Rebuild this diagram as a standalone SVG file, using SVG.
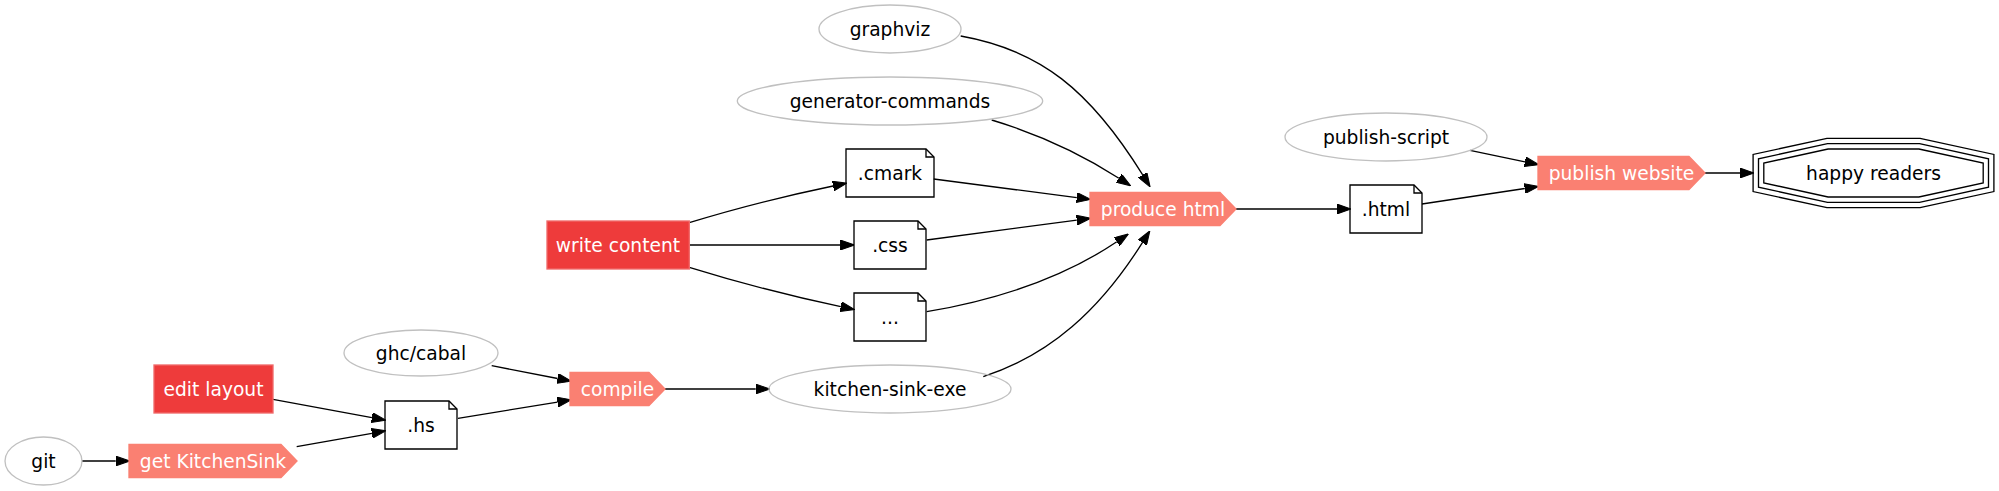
<svg xmlns="http://www.w3.org/2000/svg" width="1999" height="491" viewBox="0 0 1999 491">
<style>
text{font-family:"DejaVu Sans","Liberation Sans",sans-serif;font-size:18.67px;text-anchor:middle}
.lt{fill:#000}
.wt{fill:#fff}
.ell{fill:none;stroke:#c0c0c0;stroke-width:1.33}
.note{fill:none;stroke:#000;stroke-width:1.33}
.cds{fill:#fa8072;stroke:#fa8072;stroke-width:1.33}
.box{fill:#ee3b3b;stroke:#f06a6a;stroke-width:1.33}
.oct{fill:none;stroke:#000;stroke-width:1.33}
.edge{fill:none;stroke:#000;stroke-width:1.33;marker-end:url(#arr)}
</style>
<defs>
<marker id="arr" markerUnits="userSpaceOnUse" markerWidth="14" markerHeight="10" viewBox="0 0 13.33 9.33" refX="0" refY="4.67" orient="auto">
<path d="M0,0 L13.33,4.67 L0,9.33 z" fill="#000" stroke="#000" stroke-width="1"/>
</marker>
</defs>
<rect width="1999" height="491" fill="#fff"/>
<g id="connectors">
<path class="edge" d="M82,461 L115.7,461"/>
<path class="edge" d="M296.7,446.7 L371.9,433.3"/>
<path class="edge" d="M273,399.3 L371.9,417.6"/>
<path class="edge" d="M458,418.3 L557.5,402.1"/>
<path class="edge" d="M491.7,365.7 L557.6,378.5"/>
<path class="edge" d="M665,389 L755.7,389"/>
<path class="edge" d="M689.3,222.7 C740,207 790,195 833.1,186"/>
<path class="edge" d="M689.3,245 L840.4,245"/>
<path class="edge" d="M689.3,267.3 C740,283 795,297 840.8,306.7"/>
<path class="edge" d="M933.7,179 L1076.8,197.6"/>
<path class="edge" d="M926.7,240 L1076.8,220.1"/>
<path class="edge" d="M926.7,311.7 C990,301 1060,280 1116.8,241.8"/>
<path class="edge" d="M983.3,376.7 C1050,355 1100,310 1142.4,242.6"/>
<path class="edge" d="M991.7,120 C1035,133 1075,150 1118.9,178.2"/>
<path class="edge" d="M960.7,36 C1040,50 1090,90 1142.7,174.9"/>
<path class="edge" d="M1236,209 L1337,209"/>
<path class="edge" d="M1422,204 L1524.8,188.5"/>
<path class="edge" d="M1470,150.3 L1525,161.8"/>
<path class="edge" d="M1705,173 L1740,173"/>
</g>
<g id="git">
<ellipse class="ell" cx="43.5" cy="461" rx="38.5" ry="24"/>
<text class="lt" x="43.5" y="467.5">git</text>
</g>
<g id="get-kitchensink">
<polygon class="cds" points="129,444.5 281,444.5 297,461 281,477.5 129,477.5"/>
<text class="wt" x="213" y="467.5">get KitchenSink</text>
</g>
<g id="edit-layout">
<rect class="box" x="154" y="365" width="119" height="48"/>
<text class="wt" x="213.5" y="395.5">edit layout</text>
</g>
<g id="hs">
<polygon class="note" points="457,409 457,449 385,449 385,401 449,401 457,409"/>
<polyline class="note" points="449,401 449,409 457,409"/>
<text class="lt" x="421" y="431.5">.hs</text>
</g>
<g id="ghc-cabal">
<ellipse class="ell" cx="421" cy="353" rx="77" ry="23"/>
<text class="lt" x="421" y="359.5">ghc/cabal</text>
</g>
<g id="compile">
<polygon class="cds" points="570,372.5 649,372.5 665,389 649,405.5 570,405.5"/>
<text class="wt" x="617.5" y="395.5">compile</text>
</g>
<g id="write-content">
<rect class="box" x="547" y="221" width="142.3" height="48"/>
<text class="wt" x="618" y="251.5">write content</text>
</g>
<g id="cmark">
<polygon class="note" points="934,157 934,197 846,197 846,149 926,149 934,157"/>
<polyline class="note" points="926,149 926,157 934,157"/>
<text class="lt" x="890" y="179.5">.cmark</text>
</g>
<g id="css">
<polygon class="note" points="926,229 926,269 854,269 854,221 918,221 926,229"/>
<polyline class="note" points="918,221 918,229 926,229"/>
<text class="lt" x="890" y="251.5">.css</text>
</g>
<g id="etc">
<polygon class="note" points="926,301 926,341 854,341 854,293 918,293 926,301"/>
<polyline class="note" points="918,293 918,301 926,301"/>
<text class="lt" x="890" y="323.5">...</text>
</g>
<g id="kitchen-sink-exe">
<ellipse class="ell" cx="890" cy="389" rx="121" ry="24"/>
<text class="lt" x="890" y="395.5">kitchen-sink-exe</text>
</g>
<g id="graphviz">
<ellipse class="ell" cx="890" cy="29" rx="71" ry="24"/>
<text class="lt" x="890" y="35.5">graphviz</text>
</g>
<g id="generator-commands">
<ellipse class="ell" cx="890" cy="101" rx="152.7" ry="24"/>
<text class="lt" x="890" y="107.5">generator-commands</text>
</g>
<g id="produce-html">
<polygon class="cds" points="1090,192.5 1220,192.5 1236,209 1220,225.5 1090,225.5"/>
<text class="wt" x="1163" y="215.5">produce html</text>
</g>
<g id="html">
<polygon class="note" points="1422,193 1422,233 1350,233 1350,185 1414,185 1422,193"/>
<polyline class="note" points="1414,185 1414,193 1422,193"/>
<text class="lt" x="1386" y="215.5">.html</text>
</g>
<g id="publish-script">
<ellipse class="ell" cx="1386" cy="137" rx="101" ry="24"/>
<text class="lt" x="1386" y="143.5">publish-script</text>
</g>
<g id="publish-website">
<polygon class="cds" points="1538,156.5 1689,156.5 1705,173 1689,189.5 1538,189.5"/>
<text class="wt" x="1621.5" y="179.5">publish website</text>
</g>
<g id="happy-readers">
<polygon class="oct" points="1918.9,149 1983.2,163.06 1983.2,182.94 1918.9,197 1828.1,197 1763.8,182.94 1763.8,163.06 1828.1,149"/>
<polygon class="oct" points="1919.5,143.67 1988.5,158.77 1988.5,187.23 1919.5,202.33 1827.5,202.33 1758.5,187.23 1758.5,158.77 1827.5,143.67"/>
<polygon class="oct" points="1920.05,138.33 1993.9,154.47 1993.9,191.53 1920.05,207.67 1826.95,207.67 1753.1,191.53 1753.1,154.47 1826.95,138.33"/>
<text class="lt" x="1873.5" y="179.5">happy readers</text>
</g>
</svg>
